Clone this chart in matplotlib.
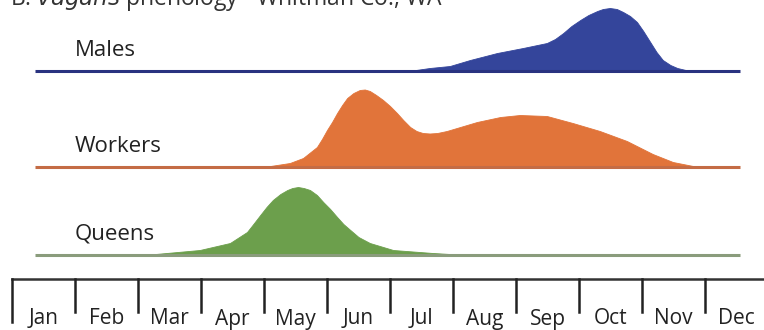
import numpy as np
import matplotlib
matplotlib.use("Agg")
import matplotlib.pyplot as plt

plt.rcParams['font.family'] = ['Open Sans', 'DejaVu Sans']

months = ['Jan', 'Feb', 'Mar', 'Apr', 'May', 'Jun',
          'Jul', 'Aug', 'Sep', 'Oct', 'Nov', 'Dec']

# relative activity (month position, height)
males_x = [6.3, 6.63, 6.95, 7.27, 7.70, 8.11, 8.49, 8.62, 8.75, 8.88, 9.02,
           9.15, 9.29, 9.38, 9.49, 9.60, 9.70, 9.81, 9.92, 10.02, 10.13,
           10.23, 10.33, 10.45, 10.56, 10.76]
males_y = [0, 3, 5, 11, 18, 23, 28, 32, 38, 45, 51, 56, 60, 62, 63, 62, 59,
           55, 49, 40, 29, 19, 11, 6, 3, 0]

workers_x = [3.6, 4.10, 4.41, 4.62, 4.84, 4.92, 5.00, 5.08, 5.16, 5.24, 5.32,
             5.42, 5.52, 5.60, 5.68, 5.78, 5.89, 6.00, 6.11, 6.21, 6.32,
             6.42, 6.52, 6.63, 6.75, 6.90, 7.06, 7.38, 7.75, 8.06, 8.49,
             8.90, 9.33, 9.76, 10.17, 10.49, 10.81]
workers_y = [0, 1, 4, 9, 20, 28, 37, 45, 54, 62, 69, 74, 77, 77.5, 76, 72,
             67, 61, 54, 47, 40, 36, 34, 33.5, 34, 36, 39, 45, 50, 52, 51,
             44, 36, 26, 13, 5, 1]

queens_x = [2.19, 2.98, 3.46, 3.73, 3.83, 3.94, 4.04, 4.14, 4.26, 4.37, 4.45,
            4.54, 4.63, 4.73, 4.84, 4.94, 5.05, 5.16, 5.26, 5.37, 5.50,
            5.68, 6.05, 6.68, 7.22]
queens_y = [0.5, 5, 12, 23, 31, 40, 48, 55, 61, 65, 67, 68, 67, 65, 60, 53,
            46, 38, 31, 25, 18, 12, 5, 2, 0]

series = [
    ('Males', males_x, males_y, 71, '#34459b', '#2a3380'),
    ('Workers', workers_x, workers_y, 167, '#e1743a', '#c46c45'),
    ('Queens', queens_x, queens_y, 255, '#6c9f4c', '#8a9c7c'),
]

fig = plt.figure(figsize=(7.64, 3.30), dpi=100)
ax = fig.add_axes([0, 0, 1, 1])
ax.set_xlim(-12 / 63, 752 / 63)
ax.set_ylim(330, 0)
ax.axis('off')

for name, xs, ys, base, fc, lc in series:
    xs = np.array(xs)
    ys = np.array(ys)
    ax.fill_between(xs, base, base - ys, color=fc, lw=0.6, ec=fc)
    ax.plot([0.37, 11.56], [base, base], color=lc, lw=2.2, solid_capstyle='butt')
    ax.text(1.0, base - 21, name, fontsize=16, color='#222222',
            va='center', ha='left')

# month axis
ax.plot([0, 12], [279, 279], color='#333333', lw=1.8, clip_on=False)
for i in range(12):
    bottom = 322 if i == 0 else 312
    ax.plot([i, i], [279, bottom], color='#222222', lw=1.8)
    ax.text(i + 0.5, 319, months[i], fontsize=15, color='#222222',
            ha='center', va='center')

# title, cut off at the top edge as in the original
ax.text(-0.03, 5, r'B. $\it{vagans}$ phenology - Whitman Co., WA',
        fontsize=16.5, color='#333333', va='baseline', ha='left')

fig.savefig('out.png', dpi=100, facecolor='white')
